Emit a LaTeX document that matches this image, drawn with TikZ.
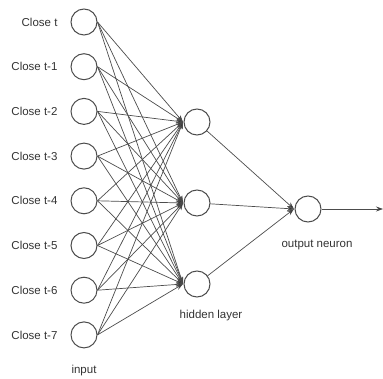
\documentclass[tikz,border=0pt]{standalone}
\usepackage{fontspec}
\setmainfont{Liberation Sans}
\usetikzlibrary{arrows.meta}
\begin{document}
\begin{tikzpicture}[x=1pt,y=-1pt,
  neuron/.style={circle,draw=black!70,line width=1pt,minimum size=26pt,inner sep=0pt},
  lbl/.style={text=black!80,font=\fontsize{11.5}{13}\selectfont},
  conn/.style={draw=black!70,line width=0.7pt,-{Stealth[length=7pt,width=5pt,fill=black!85]}}]
\useasboundingbox (0,0) rectangle (383,379);
\foreach \i/\t in {0/Close t,1/Close t-1,2/Close t-2,3/Close t-3,4/Close t-4,5/Close t-5,6/Close t-6,7/Close t-7}{
  \node[neuron] (in\i) at (84,{22+44.7*\i}) {};
  \node[lbl,anchor=east] (l\i) at (61,{22+44.7*\i}) {\t};
}
\foreach \j/\y in {0/122,1/203,2/284}{
  \node[neuron] (h\j) at (197,\y) {};
  \coordinate (hp\j) at (183,\y);
}
\node[neuron] (o) at (308,209) {};
\coordinate (op) at (294,209);
\coordinate (out) at (383,209);
\foreach \i in {0,...,7}{
  \foreach \j in {0,1,2}{
    \draw[conn] (in\i.east) -- (hp\j);
  }
}
\foreach \j in {0,1,2}{
  \draw[conn] (h\j) -- (op);
}
\draw[conn] (o.east) -- (out);
\node[lbl] (tin) at (84,371) {input};
\node[lbl] (thid) at (211,316) {hidden layer};
\node[lbl] (tout) at (317,245) {output neuron};
\end{tikzpicture}
\end{document}
